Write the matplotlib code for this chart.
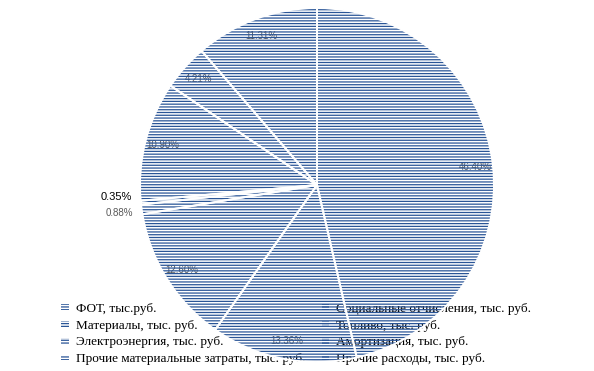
import numpy as np
import matplotlib
matplotlib.use("Agg")
import matplotlib.pyplot as plt

# cost structure, % (clockwise from the top)
labels = ["ФОТ, тыс.руб.", "Социальные отчисления, тыс. руб.", "Материалы, тыс. руб.",
          "Топливо, тыс. руб.", "Электроэнергия, тыс. руб.", "Амортизация, тыс. руб.",
          "Прочие материальные затраты, тыс. руб.", "Прочие расходы, тыс. руб."]
shares = [46.40, 13.36, 12.60, 0.88, 0.35, 10.90, 4.21, 11.31]

blue = "#2A5597"
plt.rcParams["hatch.linewidth"] = 0.9

fig = plt.figure(figsize=(5.94, 3.71), dpi=100)
ax = fig.add_axes([140 / 594, 9 / 371, 354 / 594, 354 / 371])

# hatched slices (no fill) with the labels underneath
wedges, texts, autotexts = ax.pie(shares, startangle=90, counterclock=False,
                                  autopct="%.2f%%", pctdistance=0.9,
                                  wedgeprops=dict(facecolor="none", edgecolor=blue,
                                                  linewidth=0, hatch="------"),
                                  textprops=dict(fontsize=7, color="#595959",
                                                 family="Liberation Sans"))
for w in wedges:
    w.set_zorder(3)

# white separators between slices
ax.pie(shares, startangle=90, counterclock=False,
       wedgeprops=dict(facecolor="none", edgecolor="white", linewidth=1.4, zorder=4))

# tiny slices: labels outside, on the left
for i, dy in [(3, 0.0), (4, 0.045)]:
    w = wedges[i]
    ang = np.deg2rad((w.theta1 + w.theta2) / 2)
    t = autotexts[i]
    t.set_position((1.13 * np.cos(ang) + 0.08, 1.13 * np.sin(ang) + dy))
    t.set_ha("right")
for t in autotexts:
    t.set_zorder(1)
autotexts[4].set_color("black")
autotexts[4].set_fontsize(8)

ax.set_xlim(-1, 1)
ax.set_ylim(-1, 1)
ax.set_aspect("equal")

# legend: two columns, filled row by row like the original
order = [0, 2, 4, 6, 1, 3, 5, 7]
leg = ax.legend([wedges[i] for i in order], [labels[i] for i in order],
                ncol=2, frameon=False, loc="upper left",
                bbox_to_anchor=(61 / 594, 1 - 303 / 371), bbox_transform=fig.transFigure,
                prop=dict(family="Liberation Serif", size=9.5),
                handlelength=0.6, handleheight=0.3, handletextpad=0.5,
                labelspacing=0.36, columnspacing=1.25, borderaxespad=0, borderpad=0)
leg.set_zorder(1)

fig.savefig("out.png", dpi=100)
